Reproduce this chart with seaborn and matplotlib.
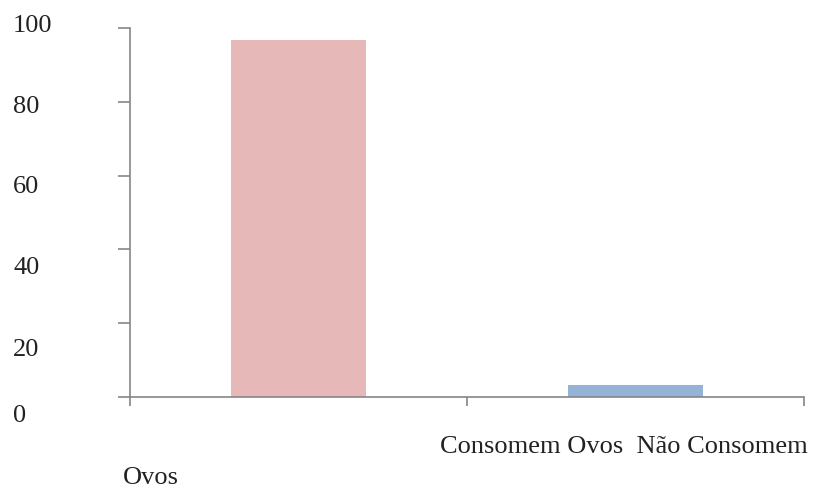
import matplotlib
matplotlib.use("Agg")
import matplotlib.pyplot as plt
from matplotlib.transforms import ScaledTranslation
import pandas as pd
import seaborn as sns

sns.set_style("white")
plt.rcParams['font.family'] = ['Liberation Serif', 'DejaVu Serif']

# Data
categories = ["Consomem Ovos", "Não Consomem Ovos"]
values = [96.8, 3.3]
bar_colors = ["#E6B9B8", "#95B3D7"]
y_ticks = [0, 20, 40, 60, 80, 100]
# odd vertical drift of the y tick labels in the original (pixels, down is +)
label_shift = [17, 24, 16, 9, 3, -4]

df = pd.DataFrame({"grupo": categories, "pct": values})

fig = plt.figure(figsize=(8.13, 4.88), dpi=100)
ax = fig.add_axes([130 / 813, 1 - 397 / 488, (804 - 130) / 813, (397 - 28) / 488])

sns.barplot(data=df, x="grupo", y="pct", hue="grupo", palette=bar_colors,
            width=0.4, legend=False, ax=ax, saturation=1, linewidth=0)

ax.set_xlim(-0.5, 1.5)
ax.set_ylim(0, 100)
ax.set_xlabel("")
ax.set_ylabel("")

axis_color = "#868686"
for side in ["top", "right"]:
    ax.spines[side].set_visible(False)
for side in ["left", "bottom"]:
    ax.spines[side].set_color(axis_color)
    ax.spines[side].set_linewidth(1.2)

fs = 19

# y axis: ticks outward, labels left-aligned far from the axis
ax.set_yticks(y_ticks)
ax.set_yticklabels([str(t) for t in y_ticks], fontsize=fs, ha="left")
ax.tick_params(axis="y", direction="out", length=8.6, width=1.2, color=axis_color,
               left=True, pad=0, labelcolor="#222222")
for lab, dy in zip(ax.get_yticklabels(), label_shift):
    lab.set_transform(lab.get_transform() + ScaledTranslation((13 - 118) / 100, -dy / 100, fig.dpi_scale_trans))

# x axis: ticks at category boundaries, labels drawn as wrapped text
ax.set_xticks([-0.5, 0.5, 1.5])
ax.set_xticklabels([])
ax.tick_params(axis="x", direction="out", length=6.5, width=1.2, color=axis_color, bottom=True)

first_line = categories[0] + "  " + categories[1].rsplit(" ", 1)[0]
second_line = categories[1].rsplit(" ", 1)[1]
fig.text(808 / 813, 1 - 447 / 488, first_line, ha="right", va="center",
         fontsize=fs, color="#222222")
fig.text(123 / 813, 1 - 478 / 488, second_line, ha="left", va="center",
         fontsize=fs, color="#222222")

fig.savefig("out.png", dpi=100)
